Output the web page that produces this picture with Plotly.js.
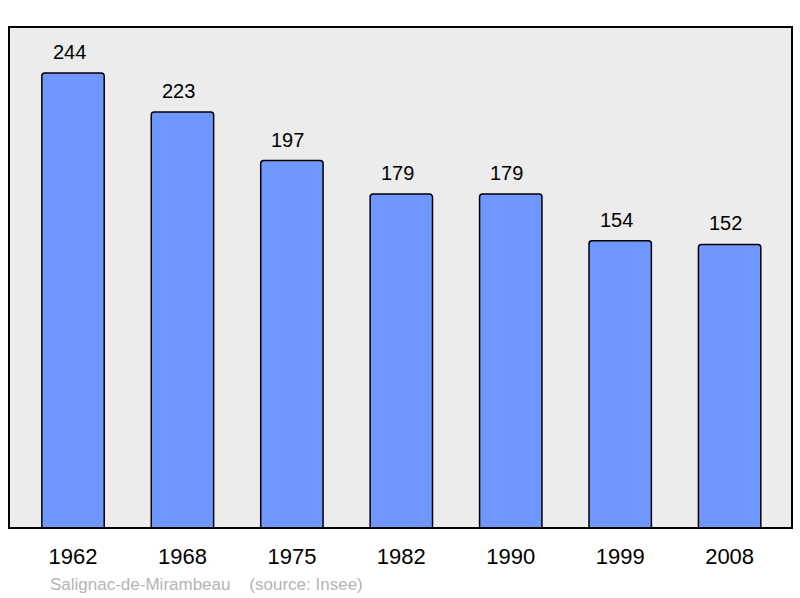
<!DOCTYPE html>
<html><head><meta charset="utf-8">
<script src="https://cdn.plot.ly/plotly-3.0.1.min.js"></script>
<style>body{margin:0;background:#fff}#c{width:800px;height:598px}</style>
</head><body><div id="c"></div>
<script>
const years = ['1962','1968','1975','1982','1990','1999','2008'];
const population = [244,223,197,179,179,154,152];
const caption = 'Salignac-de-Mirambeau\u00a0\u00a0\u00a0\u00a0(source: Insee)';

const annotations = years.map((y,i)=>({
  x:i, y:population[i], xref:'x', yref:'y', text:String(population[i]),
  showarrow:false, yanchor:'bottom', yshift:8, xshift:-4,
  font:{family:'Liberation Sans, Arial, sans-serif', size:20, color:'#000'}
}));
annotations.push({
  xref:'paper', yref:'paper', x:(48-9)/783, y:-(584-528)/501, xanchor:'left', yanchor:'middle',
  text:caption, showarrow:false,
  font:{family:'Liberation Sans, Arial, sans-serif', size:17, color:'#b4b4b4'}
});

const trace = {
  type:'bar', x:years.map((_,i)=>i), y:population, width:0.57,
  marker:{color:'#7096ff', line:{color:'#000', width:1.5}, cornerradius:3},
  hoverinfo:'none'
};

const layout = {
  width:800, height:598,
  margin:{l:9, r:8, t:27, b:70},
  paper_bgcolor:'#fff', plot_bgcolor:'#ececec',
  showlegend:false,
  xaxis:{range:[-0.585,6.57], tickmode:'array', tickvals:years.map((_,i)=>i), ticktext:years,
    showgrid:false, zeroline:false, showline:false, ticks:'outside', ticklen:9, tickcolor:'rgba(0,0,0,0)',
    tickfont:{family:'Liberation Sans, Arial, sans-serif', size:22, color:'#000'}},
  yaxis:{range:[0,268.6], showgrid:false, zeroline:false, showticklabels:false, showline:false},
  shapes:[{type:'rect', xref:'paper', yref:'paper', x0:0, x1:1, y0:0, y1:1,
    line:{color:'#000', width:2}, fillcolor:'rgba(0,0,0,0)', layer:'above'}],
  annotations:annotations
};
Plotly.newPlot('c',[trace],layout,{staticPlot:true});
</script></body></html>
